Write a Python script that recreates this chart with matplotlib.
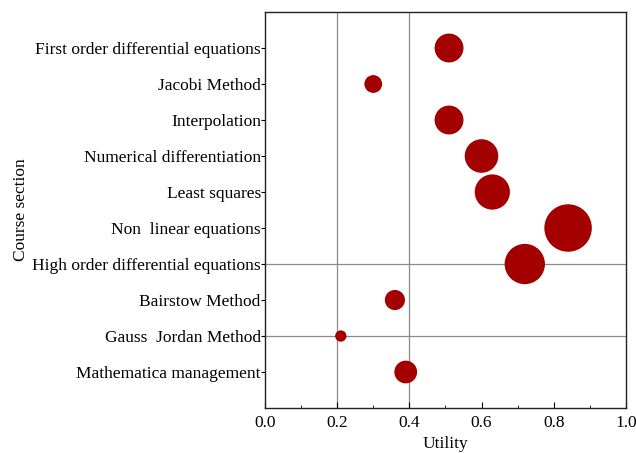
import matplotlib

matplotlib.use("Agg")
import matplotlib.pyplot as plt
import numpy as np
from matplotlib.ticker import MultipleLocator

# course sections, top to bottom as drawn
SECTIONS = [
    "First order differential equations",
    "Jacobi Method",
    "Interpolation",
    "Numerical differentiation",
    "Least squares",
    "Non  linear equations",
    "High order differential equations",
    "Bairstow Method",
    "Gauss  Jordan Method",
    "Mathematica management",
]
UTILITY = [0.51, 0.30, 0.51, 0.60, 0.63, 0.84, 0.72, 0.36, 0.21, 0.39]
# relative weight shown as bubble area
WEIGHT = [0.37, 0.14, 0.37, 0.50, 0.55, 1.00, 0.72, 0.18, 0.057, 0.23]

X_TICKS = [0.0, 0.2, 0.4, 0.6, 0.8, 1.0]

BUBBLE_COLOR = "#a50000"
GRID_COLOR = "#8a8a8a"

plt.rcParams.update(
    {
        "font.family": "serif",
        "font.serif": ["Liberation Serif", "DejaVu Serif"],
        "font.size": 12.5,
    }
)

fig = plt.figure(figsize=(6.36, 4.53), dpi=100)
ax = fig.add_axes([0.4167, 0.0993, 0.5673, 0.8742])

n = len(SECTIONS)
ys = np.arange(n, 0, -1)  # first section at the top
max_area = 1170.0
ax.scatter(
    UTILITY,
    ys,
    s=np.array(WEIGHT) * max_area,
    color=BUBBLE_COLOR,
    edgecolors="none",
    zorder=3,
)

# reference lines as in the original figure
for xv in (0.2, 0.4):
    ax.axvline(xv, color=GRID_COLOR, linewidth=0.9, zorder=1)
for name in ("High order differential equations", "Gauss  Jordan Method"):
    ax.axhline(ys[SECTIONS.index(name)], color=GRID_COLOR, linewidth=0.9, zorder=1)

ax.set_xlim(0.0, 1.0)
ax.set_ylim(0.0, n + 1)
ax.set_xticks(X_TICKS)
ax.set_xticklabels([f"{v:.1f}" for v in X_TICKS])
ax.xaxis.set_minor_locator(MultipleLocator(0.1))
ax.set_yticks(ys)
ax.set_yticklabels(SECTIONS)

ax.tick_params(axis="x", direction="in", length=4, width=0.8, pad=5)
ax.tick_params(axis="x", which="minor", direction="in", length=2, width=0.6)
ax.tick_params(axis="y", direction="out", length=3, width=0.8, pad=0)

for spine in ax.spines.values():
    spine.set_linewidth(1.0)
    spine.set_color("#222222")

ax.set_xlabel("Utility", labelpad=3.5)
ax.set_ylabel("Course section")
ax.yaxis.set_label_coords(-0.655, 0.5)

fig.savefig("out.png", dpi=100)
